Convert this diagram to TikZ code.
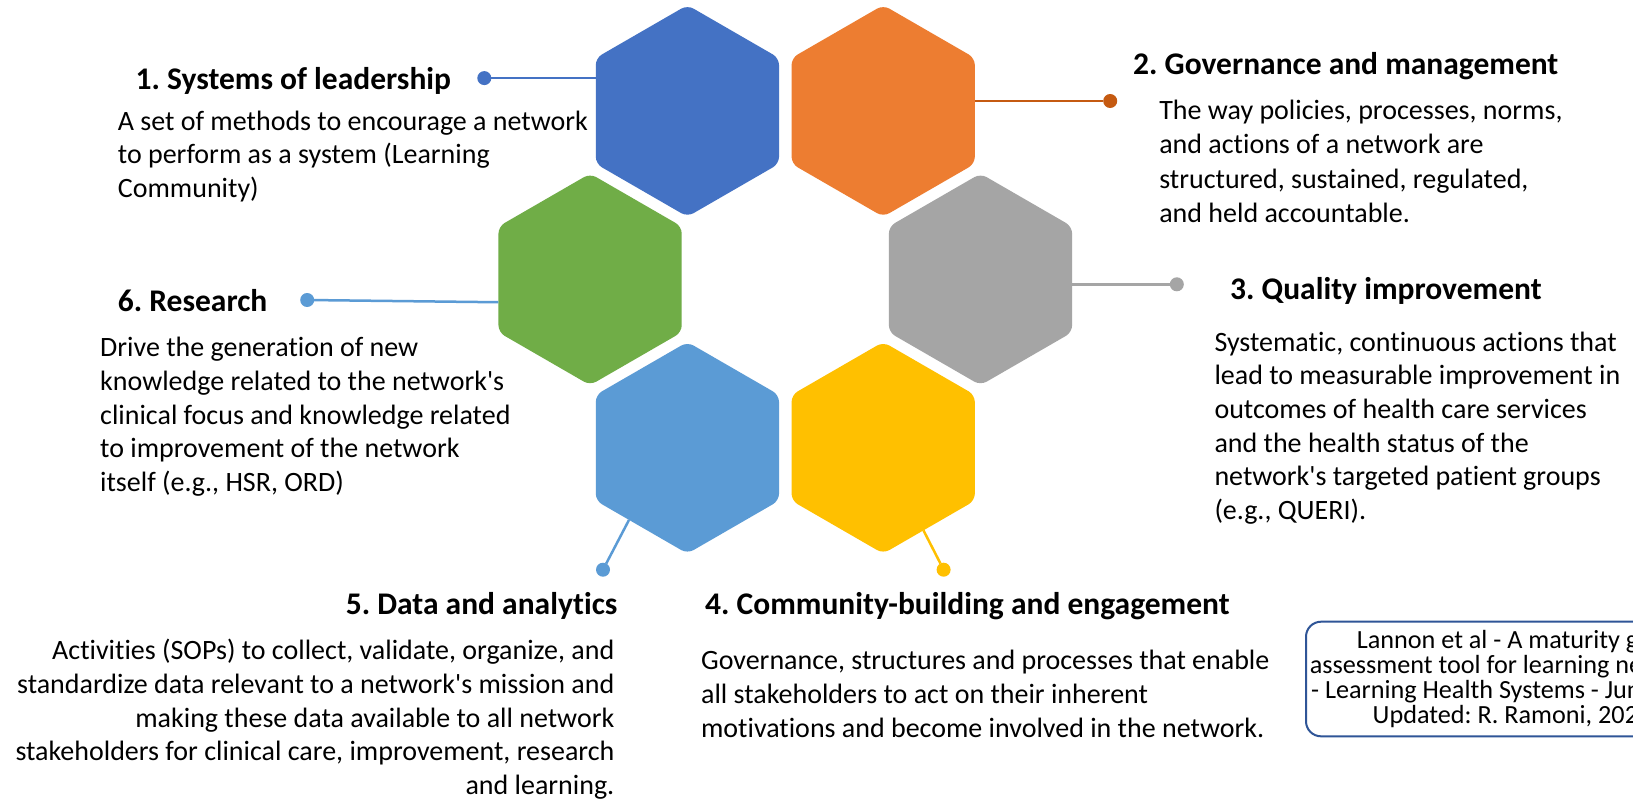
\documentclass[tikz,border=0pt]{standalone}
\usepackage{fontspec}
\setmainfont{Carlito}[Ligatures={TeX,NoCommon}]
\frenchspacing
\usetikzlibrary{shapes.geometric,calc}
\definecolor{hblue}{HTML}{4472C4}
\definecolor{horange}{HTML}{ED7D31}
\definecolor{hgray}{HTML}{A5A5A5}
\definecolor{hyellow}{HTML}{FFC000}
\definecolor{hlblue}{HTML}{5B9BD5}
\definecolor{hgreen}{HTML}{70AD47}
\definecolor{lorange}{HTML}{C55A11}
\definecolor{cboxc}{HTML}{2F5597}
\begin{document}
\begin{tikzpicture}[x=1pt,y=-1pt,
  hex/.style={regular polygon, regular polygon sides=6, shape border rotate=30,
    minimum size=211.6pt, inner sep=0pt, outer sep=0pt, rounded corners=7pt, draw=none},
  dotn/.style={circle, inner sep=0pt, outer sep=0pt, minimum size=14pt},
  conn/.style={line width=2.5pt},
  ttl/.style={font=\bfseries\fontsize{31.5}{36}\selectfont, inner sep=0pt, anchor=base west},
  body/.style={font=\fontsize{28}{33.6}\selectfont, inner sep=0pt, align=left, anchor=base west},
  cite/.style={draw=cboxc, line width=2pt, rounded corners=15pt, align=center,
    font=\fontsize{26.2}{25.3}\selectfont, inner sep=0pt, minimum width=412pt, minimum height=114.6pt}
]
\fill[white] (0,0) rectangle (1633,800);
\useasboundingbox (0,0) rectangle (1633,800);

% hexagons
\node[hex, fill=hblue]   (h1) at (687.4,110.9) {};
\node[hex, fill=horange] (h2) at (883.2,110.9) {};
\node[hex, fill=hgray]   (h3) at (980.5,279.4) {};
\node[hex, fill=hyellow] (h4) at (883.2,447.8) {};
\node[hex, fill=hlblue]  (h5) at (687.4,447.8) {};
\node[hex, fill=hgreen]  (h6) at (590.1,279.4) {};

% dots
\node[dotn, fill=hblue]   (d1) at (484.3,78.1) {};
\node[dotn, fill=lorange] (d2) at (1110.2,101) {};
\node[dotn, fill=hgray]   (d3) at (1176.8,284.3) {};
\node[dotn, fill=hyellow] (d4) at (943.6,569.7) {};
\node[dotn, fill=hlblue]  (d5) at (603,569.7) {};
\node[dotn, fill=hlblue]  (d6) at (307.2,300) {};

% connectors
\draw[conn, hblue]   (d1) -- (d1 -| h1.west);
\draw[conn, lorange] (d2) -- (d2 -| h2.east);
\draw[conn, hgray]   (d3) -- (d3 -| h3.east);
\draw[conn, hyellow] (d4) -- (h4.296.8);
\draw[conn, hlblue]  (d5) -- (h5.231.7);
\draw[conn, hlblue]  (d6) -- (h6.194.6);

% titles
\node[ttl] (t1) at (135.4,89) {1. Systems of leadership};
\node[ttl] (t2) at (1133,74.6) {2. Governance and management};
\node[ttl] (t3) at (1230,299.5) {3. Quality improvement};
\node[ttl] (t6) at (117.7,311) {6. Research};
\node[ttl, anchor=base east] (t5) at (617.6,614) {5. Data and analytics};
\node[ttl] (t4) at (705,614) {4. Community-building and engagement};

% bodies (anchored at the baseline of their last line)
\node[body] (b1) at (117.7,197.5) {A set of methods to encourage a network\\to perform as a system (Learning\\Community)};
\node[body, font=\fontsize{28}{34.5}\selectfont] (b2) at (1159.1,222.5) {The way policies, processes, norms,\\and actions of a network are\\structured, sustained, regulated,\\and held accountable.};
\node[body] (b3) at (1214.3,519.3) {Systematic, continuous actions that\\lead to measurable improvement in\\outcomes of health care services\\and the health status of the\\network\textquotesingle s targeted patient groups\\(e.g., QUERI).};
\node[body] (b6) at (100,491.2) {Drive the generation of new\\knowledge related to the network\textquotesingle s\\clinical focus and knowledge related\\to improvement of the network\\itself (e.g., HSR, ORD)};
\node[body, align=right, anchor=base east] (b5) at (614.5,794.3) {Activities (SOPs) to collect, validate, organize, and\\standardize data relevant to a network\textquotesingle s mission and\\making these data available to all network\\stakeholders for clinical care, improvement, research\\and learning.};
\node[body] (b4) at (700.9,737) {Governance, structures and processes that enable\\all stakeholders to act on their inherent\\motivations and become involved in the network.};

% citation box (runs past the right edge)
\begin{scope}
\clip (0,0) rectangle (1633,800);
\node[cite] (c1) at (1512,679) {Lannon et al - A maturity grid\\assessment tool for learning networks\\- Learning Health Systems - June 2020\\Updated: R. Ramoni, 2022};
\end{scope}
\end{tikzpicture}
\end{document}
